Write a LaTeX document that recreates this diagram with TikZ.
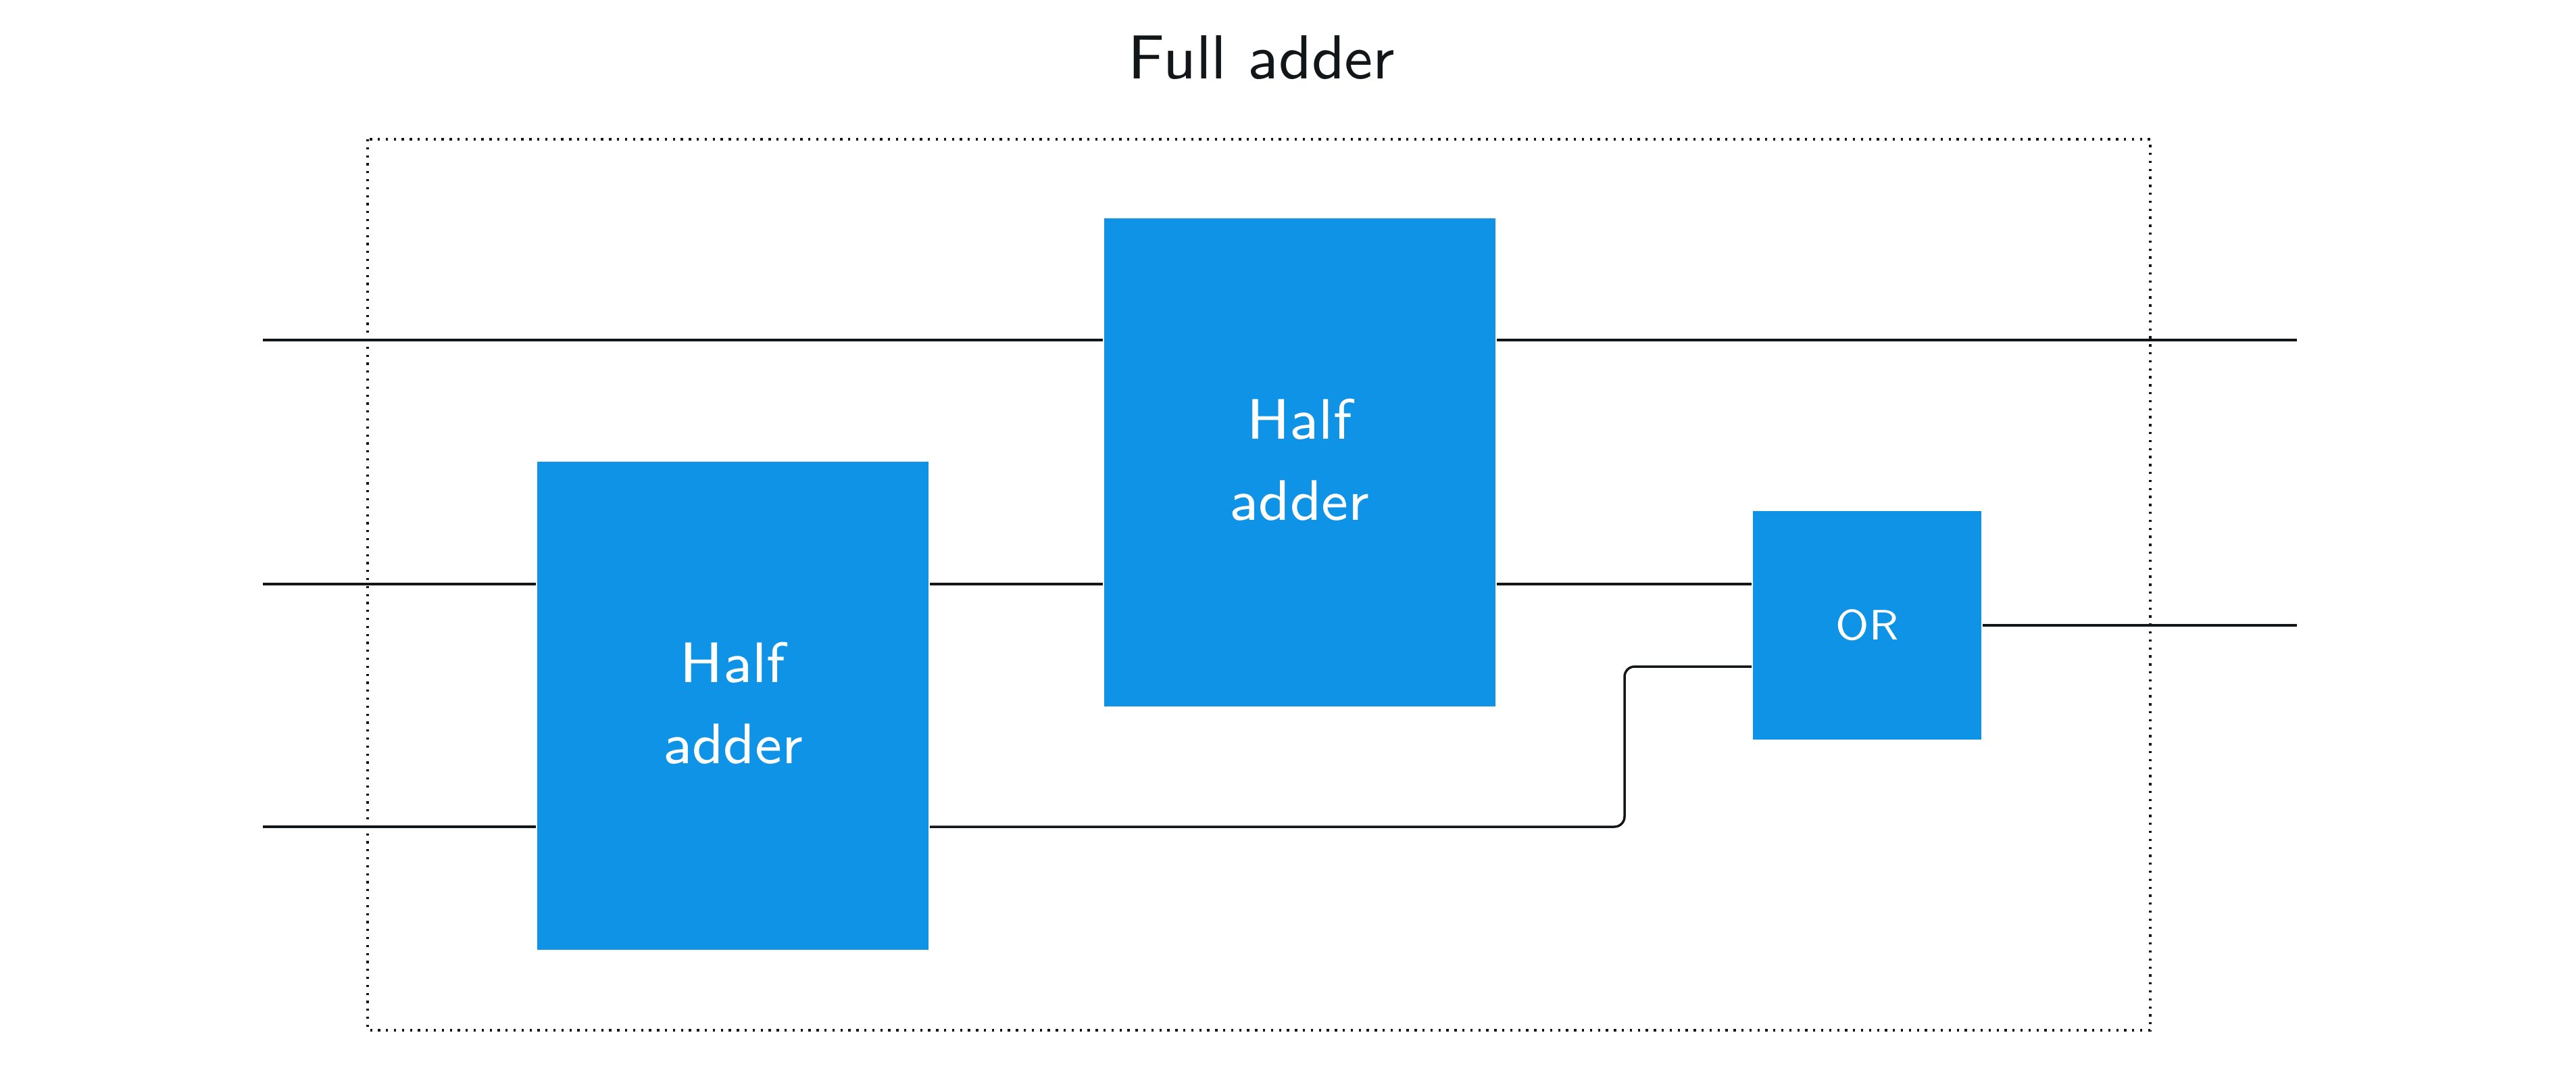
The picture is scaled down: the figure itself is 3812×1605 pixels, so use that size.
\documentclass[tikz,border=0pt]{standalone}
\usepackage{fontspec}
\definecolor{boxblue}{HTML}{0E93E7}
\definecolor{ink}{HTML}{121619}
\begin{document}
\begin{tikzpicture}[x=0.1pt,y=-0.1pt,
  wire/.style={draw=ink,line width=0.35pt},
  adderbox/.style={fill=boxblue,text=white,inner sep=0pt,align=center,
    minimum width=57.9pt,minimum height=72.2pt,text depth=0.8pt,
    font=\sffamily\fontsize{8.45}{12}\selectfont},
  gatebox/.style={fill=boxblue,text=white,inner sep=0pt,
    minimum width=33.8pt,minimum height=33.8pt,
    font=\sffamily\fontsize{6.3}{7.5}\selectfont},
  frame/.style={draw=ink,line width=0.36pt,dash pattern=on 0.33pt off 0.85pt},
  titlestyle/.style={text=ink,inner sep=0pt,font=\sffamily\fontsize{9.2}{11}\selectfont}]
\useasboundingbox (0,0) rectangle (3812,1605);
\node[titlestyle,anchor=base] (title) at (1867,117) {Full adder};
\draw[frame] (544,206) rectangle (3182,1524);
\node[adderbox] (ha1) at (1084.5,1044) {Half\\adder};
\node[adderbox] (ha2) at (1923,684) {Half\\adder};
\node[gatebox] (or) at (2763,925) {OR};
\coordinate (in1) at (389,503);
\coordinate (in2) at (389,864);
\coordinate (in3) at (389,1223);
\coordinate (out1) at (3399,503);
\coordinate (out2) at (3399,925);
\coordinate (bend) at (2404,986);
\draw[wire] (in1) -- (in1 -| ha2.west);
\draw[wire] (ha2.east |- in1) -- (out1);
\draw[wire] (in2) -- (in2 -| ha1.west);
\draw[wire] (ha1.east |- in2) -- (in2 -| ha2.west);
\draw[wire] (ha2.east |- in2) -- (in2 -| or.west);
\draw[wire] (in3) -- (in3 -| ha1.west);
\draw[wire,rounded corners=1.5pt] (ha1.east |- in3) -- (bend |- in3) -- (bend) -- (bend -| or.west);
\draw[wire] (or.east) -- (out2);
\end{tikzpicture}
\end{document}
